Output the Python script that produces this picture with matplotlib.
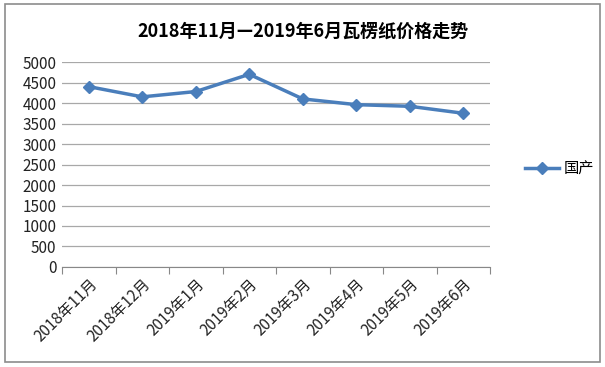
import matplotlib
matplotlib.use("Agg")
import matplotlib.pyplot as plt
from matplotlib.patches import Rectangle

plt.rcParams['font.family'] = ['Noto Sans CJK SC', 'DejaVu Sans']

categories = ["2018年11月", "2018年12月", "2019年1月", "2019年2月",
              "2019年3月", "2019年4月", "2019年5月", "2019年6月"]
values = [4400, 4150, 4280, 4700, 4100, 3960, 3920, 3750]
series_name = "国产"
title = "2018年11月—2019年6月瓦楞纸价格走势"
yticks = [0, 500, 1000, 1500, 2000, 2500, 3000, 3500, 4000, 4500, 5000]

fig = plt.figure(figsize=(6.05, 3.67), dpi=100)
fig.patches.append(Rectangle((0.008, 0.013), 0.984, 0.975, transform=fig.transFigure,
                             fill=False, edgecolor='#8c8c8c', linewidth=1.2))
ax = fig.add_axes([0.1025, 0.2725, 0.7075, 0.5585])

x = list(range(len(categories)))
ax.plot(x, values, color='#4A7EBB', linewidth=2.5, marker='D', markersize=6.5,
        markerfacecolor='#4A7EBB', markeredgecolor='#4A7EBB', label=series_name)

ax.set_xlim(-0.5, len(categories) - 0.5)
ax.set_ylim(0, 5000)
ax.set_yticks(yticks)
ax.set_yticklabels([str(v) for v in yticks], fontsize=11, color='#222222')
ax.tick_params(axis='y', length=0, pad=4)
ax.grid(axis='y', color='#a8a8a8', linewidth=0.9)
ax.set_axisbelow(True)

ax.set_xticks([i - 0.5 for i in range(len(categories) + 1)])
ax.set_xticklabels([])
ax.set_xticks(x, minor=True)
ax.set_xticklabels(categories, minor=True, rotation=45, ha='right',
                   rotation_mode='anchor', fontsize=11, color='#222222')
ax.tick_params(axis='x', which='major', length=5, color='#888888', direction='out')
ax.tick_params(axis='x', which='minor', length=0, pad=6)

for s in ['top', 'right', 'left']:
    ax.spines[s].set_visible(False)
ax.spines['bottom'].set_color('#888888')

fig.text(0.5, 0.915, title, ha='center', va='center', fontsize=13, fontweight='bold')

leg = fig.legend(loc='center left', bbox_to_anchor=(0.845, 0.54), frameon=False,
                 fontsize=11, handlelength=2.2, handletextpad=0.3)

fig.savefig("out.png", dpi=100)
